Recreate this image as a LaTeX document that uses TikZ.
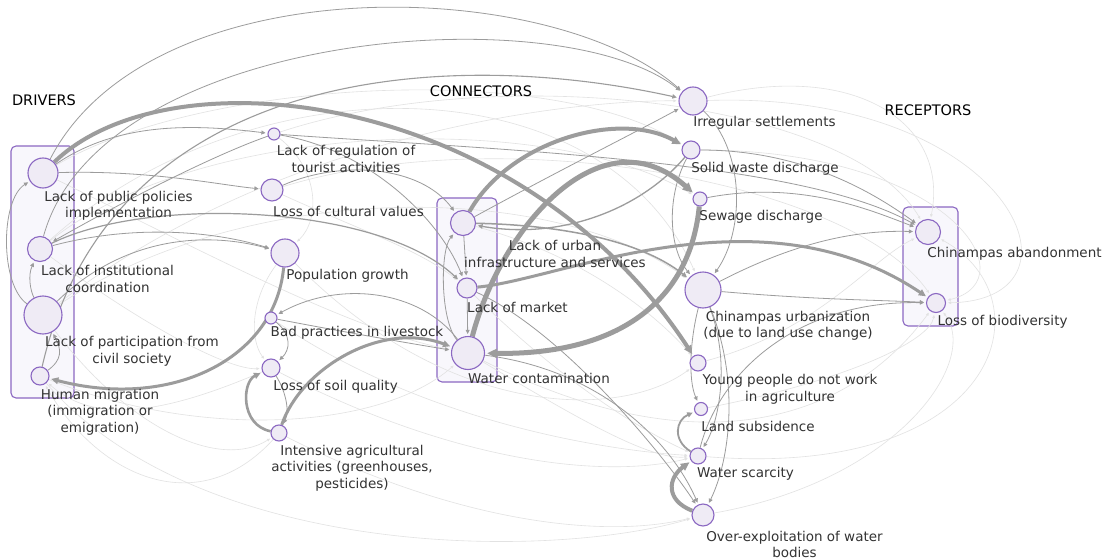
\documentclass[tikz,border=0pt]{standalone}
\usepackage{fontspec}
\setmainfont{DejaVu Sans}
\usetikzlibrary{arrows.meta}
\definecolor{nodefill}{HTML}{EFEBF5}
\definecolor{nodeline}{HTML}{8B68C2}
\definecolor{boxfill}{HTML}{F8F7FC}
\definecolor{edgegray}{HTML}{9C9C9C}
\definecolor{faintgray}{HTML}{E2E2E2}
\definecolor{labelgray}{HTML}{333333}
\pgfdeclarelayer{bg}
\pgfdeclarelayer{fg}
\pgfsetlayers{bg,main,fg}
\begin{document}
\begin{tikzpicture}[x=1pt,y=-1pt,
  factor/.style={circle,draw=nodeline,fill=nodefill,line width=1.1pt,inner sep=0pt,minimum size=#1},
  lbl/.style={text=labelgray,font=\fontsize{13.5}{16.5}\selectfont,align=center,inner sep=0pt},
  header/.style={font=\fontsize{14.5}{17}\selectfont,text=black,inner sep=0pt},
  group/.style={draw=nodeline,fill=boxfill,line width=1.1pt,rounded corners=5pt},
  link/.style={draw=edgegray,line width=0.8pt,-{Triangle[length=3pt 1.4,width=3pt 1.2]},shorten >=2pt},
  faint/.style={draw=faintgray,line width=0.6pt,-{Triangle[length=3pt,width=2.6pt]},shorten >=2pt},
]
\useasboundingbox (0,0) rectangle (1108,559);

% group frames
\begin{pgfonlayer}{bg}
  \fill[white] (0,0) rectangle (1108,559);
  \draw[group] (11,146) rectangle (74,398);
  \draw[group] (437,198) rectangle (497,382);
  \draw[group] (903,207) rectangle (958,326);
\end{pgfonlayer}

% factors and their labels
\begin{pgfonlayer}{fg}
  \node[factor=30pt] (pol) at (43,173) {};
  \node[factor=25pt] (ins) at (40,249) {};
  \node[factor=38pt] (par) at (43,315) {};
  \node[factor=18pt] (mig) at (40,376) {};
  \node[factor=12pt] (reg) at (274,134) {};
  \node[factor=22pt] (cul) at (272,190) {};
  \node[factor=28pt] (pop) at (285,253) {};
  \node[factor=12pt] (bad) at (271,318) {};
  \node[factor=18pt] (soi) at (271,368) {};
  \node[factor=16pt] (int) at (279,433) {};
  \node[factor=25pt] (urb) at (463,223) {};
  \node[factor=20pt] (mkt) at (467,288) {};
  \node[factor=33pt] (wco) at (468,353) {};
  \node[factor=28pt] (irr) at (693,101) {};
  \node[factor=18pt] (sol) at (691,150) {};
  \node[factor=14pt] (sew) at (700,199) {};
  \node[factor=36pt] (urz) at (703,290) {};
  \node[factor=16pt] (yng) at (698,363) {};
  \node[factor=13pt] (sub) at (701,409) {};
  \node[factor=16pt] (sca) at (698,456) {};
  \node[factor=22pt] (ovx) at (703,515) {};
  \node[factor=25pt] (aba) at (928,232) {};
  \node[factor=19pt] (bio) at (936,303) {};

  \node[header] (hdrv) at (44,100) {DRIVERS};
  \node[header] (hcon) at (481,91) {CONNECTORS};
  \node[header] (hrec) at (928,110) {RECEPTORS};

  \node[lbl] (lpol) at (118.5,206) {Lack of public policies\\implementation};
  \node[lbl] (lins) at (107.5,279) {Lack of institutional\\coordination};
  \node[lbl] (lpar) at (132,351.5) {Lack of participation from\\civil society};
  \node[lbl] (lmig) at (100,412) {Human migration\\(immigration or\\emigration)};
  \node[lbl] (lreg) at (346,159) {Lack of regulation of\\tourist activities};
  \node[lbl] (lcul) at (348.5,211) {Loss of cultural values};
  \node[lbl] (lpop) at (347.5,276) {Population growth};
  \node[lbl] (lbad) at (357,333) {Bad practices in livestock};
  \node[lbl] (lsoi) at (335.5,387) {Loss of soil quality};
  \node[lbl] (lint) at (352,468) {Intensive agricultural\\activities (greenhouses,\\pesticides)};
  \node[lbl] (lurb) at (555,254) {Lack of urban\\infrastructure and services};
  \node[lbl] (lmkt) at (517.5,307) {Lack of market};
  \node[lbl] (lwco) at (539,378) {Water contamination};
  \node[lbl] (lirr) at (764.5,123) {Irregular settlements};
  \node[lbl] (lsol) at (765,169) {Solid waste discharge};
  \node[lbl] (lsew) at (761,217) {Sewage discharge};
  \node[lbl] (lurz) at (788,326) {Chinampas urbanization\\(due to land use change)};
  \node[lbl] (lyng) at (790,389.5) {Young people do not work\\in agriculture};
  \node[lbl] (lsub) at (758,426) {Land subsidence};
  \node[lbl] (lsca) at (745.5,474) {Water scarcity};
  \node[lbl] (lovx) at (794.5,544.5) {Over-exploitation of water\\bodies};
  \node[lbl] (laba) at (1014.5,254) {Chinampas abandonment};
  \node[lbl] (lbio) at (1002.5,322) {Loss of biodiversity};
\end{pgfonlayer}

% weak relations
\draw[faint] (pol) .. controls (200,80) and (550,60) .. (sol);
\draw[faint] (ins) .. controls (200,120) and (550,110) .. (sew);
\draw[faint] (par) .. controls (250,180) and (550,180) .. (urz);
\draw[faint] (mig) .. controls (200,440) and (380,430) .. (wco);
\draw[faint] (ins) .. controls (150,330) and (230,370) .. (soi);
\draw[faint] (par) .. controls (130,430) and (220,470) .. (int);
\draw[faint] (reg) .. controls (500,60) and (850,100) .. (aba);
\draw[faint] (cul) .. controls (500,120) and (850,180) .. (bio);
\draw[faint] (pop) .. controls (450,420) and (620,420) .. (yng);
\draw[faint] (soi) .. controls (450,460) and (600,480) .. (sca);
\draw[faint] (int) .. controls (450,520) and (600,540) .. (ovx);
\draw[faint] (wco) .. controls (580,420) and (650,460) .. (sca);
\draw[faint] (irr) .. controls (1010,90) and (1100,300) .. (bio);
\draw[faint] (sol) .. controls (950,150) and (1030,280) .. (bio);
\draw[faint] (yng) .. controls (820,330) and (870,260) .. (aba);
\draw[faint] (ovx) .. controls (900,480) and (980,360) .. (bio);
\draw[faint] (sub) .. controls (850,380) and (930,340) .. (bio);
\draw[faint] (mkt) .. controls (560,380) and (640,430) .. (sca);
\draw[faint] (urb) .. controls (600,260) and (670,330) .. (yng);
\draw[faint] (bad) .. controls (420,420) and (600,450) .. (sca);
\draw[faint] (mig) .. controls (200,560) and (550,560) .. (ovx);
\draw[faint] (pol) .. controls (200,250) and (350,330) .. (wco);
\draw[faint] (cul) .. controls (360,230) and (420,250) .. (mkt);
\draw[faint] (pop) .. controls (250,300) and (250,340) .. (soi);
\draw[faint] (reg) .. controls (320,170) and (320,220) .. (pop);
\draw[faint] (ins) .. controls (250,60) and (600,60) .. (urz);
\draw[faint] (par) .. controls (300,120) and (600,100) .. (irr);
\draw[faint] (sca) .. controls (1000,480) and (1050,300) .. (aba);
\draw[faint] (irr) .. controls (850,60) and (950,120) .. (aba);
\draw[faint] (wco) .. controls (700,470) and (850,420) .. (bio);
\draw[faint] (int) .. controls (200,520) and (100,480) .. (mig);
\draw[faint] (soi) .. controls (150,420) and (90,420) .. (mig);

% relations
\draw[link] (pol) .. controls (150,-35) and (550,-25) .. (irr);
\draw[link] (ins) .. controls (100,30) and (560,-5) .. (irr);
\draw[link,line width=1.1pt] (mig) .. controls (110,70) and (440,45) .. (irr);
\draw[link,line width=4pt] (pol) .. controls (170,50) and (520,90) .. (yng);
\draw[link,line width=3pt] (pop) .. controls (275,360) and (170,410) .. (mig);
\draw[link,line width=3pt] (int) .. controls (300,370) and (380,320) .. (wco);
\draw[link,line width=2.6pt] (int) .. controls (240,425) and (242,382) .. (soi);
\draw[link] (soi) .. controls (285,390) and (290,410) .. (int);
\draw[link,line width=4pt] (urb) .. controls (510,140) and (620,110) .. (sol);
\draw[link,line width=5pt] (wco) .. controls (500,230) and (600,110) .. (sew);
\draw[link,line width=5pt] (sew) .. controls (690,300) and (620,355) .. (wco);
\draw[link,line width=3pt] (mkt) .. controls (560,280) and (760,185) .. (bio);
\draw[link,line width=4pt] (ovx) .. controls (665,500) and (668,478) .. (sca);
\draw[link,line width=1.8pt] (sca) .. controls (672,440) and (676,420) .. (sub);
\draw[link,line width=1.2pt] (ins) .. controls (150,195) and (380,205) .. (mkt);
\draw[link] (par) .. controls (120,240) and (200,230) .. (pop);
\draw[link] (ins) .. controls (130,225) and (210,230) .. (pop);
\draw[link] (reg) .. controls (200,160) and (90,220) .. (ins);
\draw[link] (par) .. controls (0,285) and (0,200) .. (pol);
\draw[link] (par) .. controls (30,290) and (28,275) .. (ins);
\draw[link] (mig) .. controls (62,360) and (62,350) .. (par);
\draw[link] (reg) .. controls (500,150) and (800,160) .. (aba);
\draw[link] (reg) .. controls (370,150) and (440,220) .. (mkt);
\draw[link] (cul) .. controls (340,160) and (420,165) .. (urb);
\draw[link] (pol) .. controls (150,170) and (220,185) .. (cul);
\draw[link] (pol) .. controls (120,120) and (200,125) .. (reg);
\draw[link,line width=1.3pt] (sol) .. controls (640,210) and (560,240) .. (urb);
\draw[link] (irr) .. controls (745,150) and (745,230) .. (urz);
\draw[link,line width=1.5pt] (urb) .. controls (560,225) and (640,240) .. (urz);
\draw[link] (sol) .. controls (665,200) and (670,250) .. (urz);
\draw[link] (urb) .. controls (560,170) and (640,130) .. (irr);
\draw[link] (wco) .. controls (600,370) and (670,440) .. (ovx);
\draw[link] (mkt) .. controls (560,330) and (660,450) .. (ovx);
\draw[link] (sol) .. controls (800,150) and (870,190) .. (aba);
\draw[link] (sew) .. controls (800,180) and (870,210) .. (aba);
\draw[link] (urz) .. controls (800,240) and (860,230) .. (aba);
\draw[link] (sca) .. controls (720,370) and (800,300) .. (bio);
\draw[link] (urz) .. controls (820,300) and (880,300) .. (bio);
\draw[link] (wco) .. controls (420,290) and (340,280) .. (bad);
\draw[link] (bad) .. controls (360,335) and (420,345) .. (wco);
\draw[link] (bad) .. controls (292,335) and (290,350) .. (soi);
\draw[link] (mkt) -- (wco);
\draw[link] (urb) -- (mkt);
\draw[link] (wco) .. controls (440,320) and (440,250) .. (urb);
\draw[link] (urz) .. controls (730,360) and (720,420) .. (sca);
\draw[link] (urz) .. controls (690,340) and (688,380) .. (sub);
\draw[link] (urz) .. controls (740,380) and (730,460) .. (ovx);
\end{tikzpicture}
\end{document}
